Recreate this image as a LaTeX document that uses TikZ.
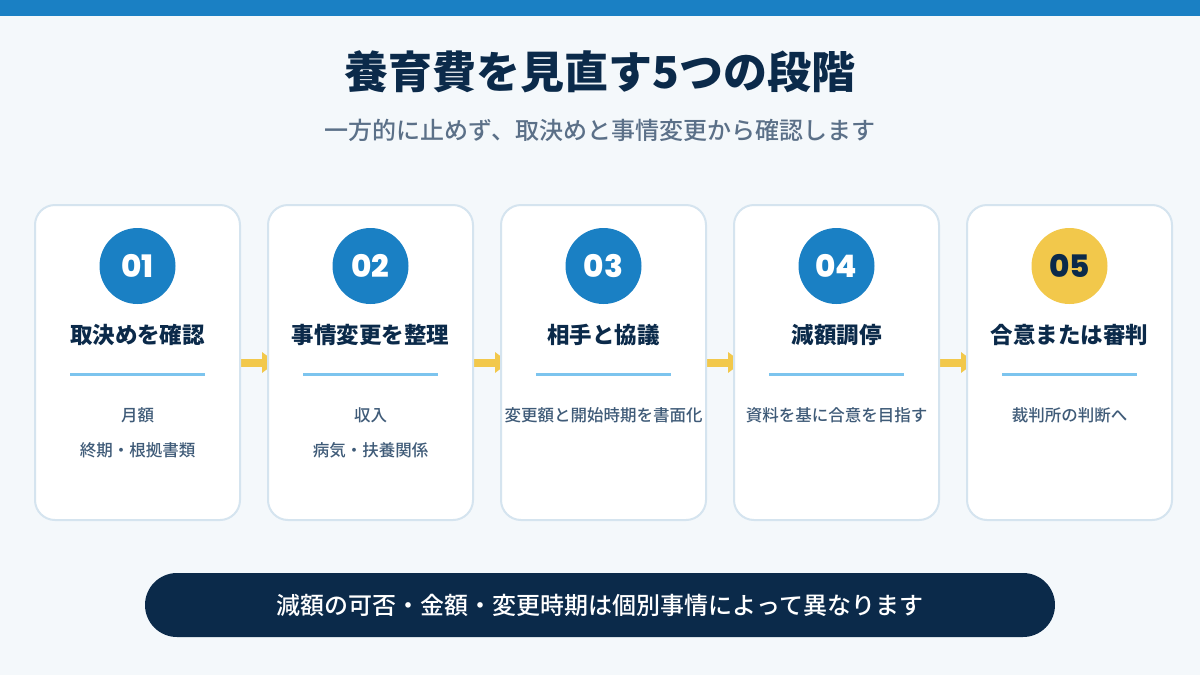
\documentclass[tikz,border=0pt]{standalone}
\usepackage{fontspec}
\usetikzlibrary{arrows.meta}
\setmainfont{Noto Sans CJK JP Medium}[BoldFont={Noto Sans CJK JP Black}]
\newfontfamily\numfont{Poppins ExtraBold}
\definecolor{topblue}{HTML}{1A80C4}
\definecolor{pagebg}{HTML}{F4F8FB}
\definecolor{navy}{HTML}{0B2A4A}
\definecolor{subgray}{HTML}{5B7088}
\definecolor{cardline}{HTML}{D5E4EF}
\definecolor{rulecol}{HTML}{7CC4EE}
\definecolor{bodycol}{HTML}{3F5B78}
\definecolor{stepyellow}{HTML}{F2C84B}
\pgfdeclarelayer{bg}
\pgfsetlayers{bg,main}
\tikzset{
  card/.style={draw=cardline, line width=2pt, fill=white, rounded corners=20pt,
    minimum width=205pt, minimum height=315pt},
  num/.style={circle, fill=topblue, text=white, minimum size=76pt, inner sep=0pt,
    font=\numfont\fontsize{31}{31}\selectfont},
  steptitle/.style={text=navy, font=\bfseries\fontsize{22.5}{24}\selectfont},
  body/.style={text=bodycol, font=\fontsize{16.5}{18}\selectfont},
  rule/.style={rulecol, line width=3pt},
  flow/.style={stepyellow, line width=8pt, -{Triangle[length=14pt,width=20pt]}},
}
\begin{document}
\begin{tikzpicture}[x=1pt,y=-1pt]
    \begin{pgfonlayer}{bg}
        \fill[pagebg] (0,0) rectangle (1200,675);
        \fill[topblue] (0,0) rectangle (1200,16);
    \end{pgfonlayer}
    \useasboundingbox (0,0) rectangle (1200,675);
    % heading
    \node[text=navy, font=\bfseries\fontsize{44}{46}\selectfont] (title) at (600,72) {養育費を見直す5つの段階};
    \node[text=subgray, font=\fontsize{24}{26}\selectfont] (sub) at (600,130) {一方的に止めず、取決めと事情変更から確認します};
    % cards
    \node[card] (c1) at (137.5,362.5) {};
    \node[card] (c2) at (370.5,362.5) {};
    \node[card] (c3) at (603.5,362.5) {};
    \node[card] (c4) at (836.5,362.5) {};
    \node[card] (c5) at (1069.5,362.5) {};
    \node[num] (n1) at (137.5,266) {01};
    \node[num] (n2) at (370.5,266) {02};
    \node[num] (n3) at (603.5,266) {03};
    \node[num] (n4) at (836.5,266) {04};
    \node[num, fill=stepyellow, text=navy] (n5) at (1069.5,266) {05};
    \node[steptitle] (t1) at (137.5,335) {取決めを確認};
    \node[steptitle] (t2) at (370.5,335) {事情変更を整理};
    \node[steptitle] (t3) at (603.5,335) {相手と協議};
    \node[steptitle] (t4) at (836.5,335) {減額調停};
    \node[steptitle] (t5) at (1069.5,335) {合意または審判};
    \draw[rule] (70,374) -- (205,374);
    \draw[rule] (303,374) -- (438,374);
    \draw[rule] (536,374) -- (671,374);
    \draw[rule] (769,374) -- (904,374);
    \draw[rule] (1002,374) -- (1137,374);
    \node[body] (b1) at (137.5,415) {月額};
    \node[body] (b1b) at (137.5,450) {終期・根拠書類};
    \node[body] (b2) at (370.5,415) {収入};
    \node[body] (b2b) at (370.5,450) {病気・扶養関係};
    \node[body] (b3) at (603.5,415) {変更額と開始時期を書面化};
    \node[body] (b4) at (836.5,415) {資料を基に合意を目指す};
    \node[body] (b5) at (1069.5,415) {裁判所の判断へ};
    % arrows go under the next card
    \begin{pgfonlayer}{bg}
        \draw[flow] (c1.east) -- ([xshift=9pt]c2.west);
        \draw[flow] (c2.east) -- ([xshift=9pt]c3.west);
        \draw[flow] (c3.east) -- ([xshift=9pt]c4.west);
        \draw[flow] (c4.east) -- ([xshift=9pt]c5.west);
    \end{pgfonlayer}
    % note
    \node[fill=navy, text=white, rounded corners=32pt, minimum width=910pt, minimum height=64pt,
        font=\fontsize{24}{26}\selectfont] (note) at (600,605) {減額の可否・金額・変更時期は個別事情によって異なります};
\end{tikzpicture}
\end{document}
